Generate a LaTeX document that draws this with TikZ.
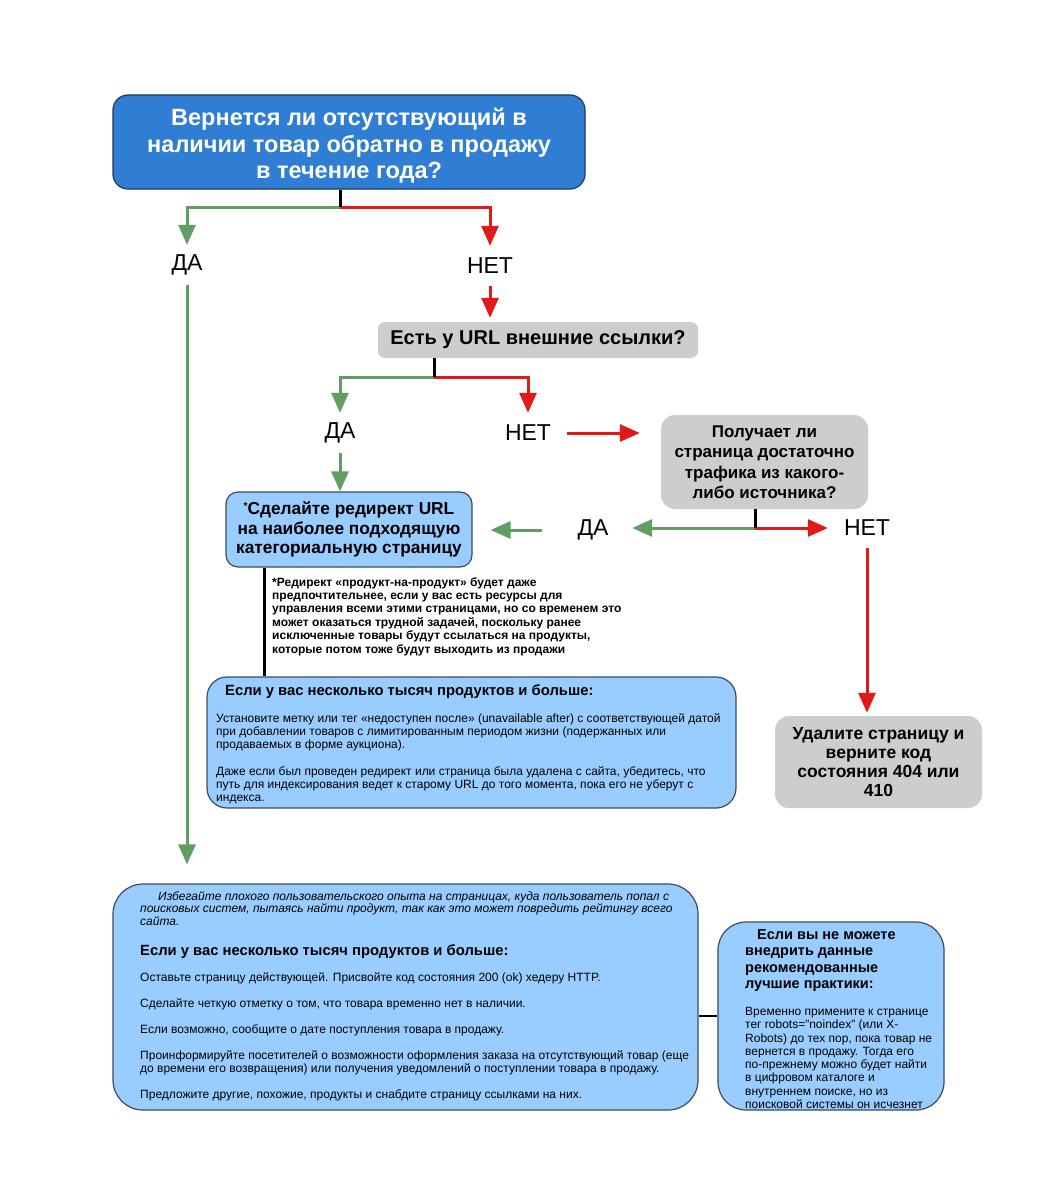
\documentclass[tikz,border=0pt]{standalone}
\usepackage{fontspec}
\setmainfont{Liberation Sans}
\usetikzlibrary{arrows.meta}
\newcommand\myfs[2]{\fontsize{#1}{#2}\selectfont}
\definecolor{topblue}{RGB}{47,126,212}
\definecolor{navy}{RGB}{30,55,90}
\definecolor{lblue}{RGB}{153,204,255}
\definecolor{lborder}{RGB}{60,75,95}
\definecolor{grayq}{RGB}{205,205,205}
\definecolor{gline}{RGB}{98,158,98}
\definecolor{rline}{RGB}{225,25,25}
\begin{document}
\begin{tikzpicture}[x=1pt,y=-1pt,
  topbox/.style={rounded corners=15pt, fill=topblue, draw=navy, line width=1.2pt, inner sep=0pt, minimum width=472pt, minimum height=94pt},
  gbox/.style={rounded corners=14pt, fill=grayq, align=center, inner sep=0pt},
  lbox/.style={rounded corners=14pt, fill=lblue, draw=lborder, line width=1.2pt, align=center, inner sep=0pt},
  lbl/.style={font=\myfs{23}{23}, minimum width=78pt, minimum height=40pt, inner sep=0pt},
  txt/.style={anchor=north west, align=left, inner sep=0pt},
  garr/.style={draw=gline, line width=3pt, -{Triangle[width=17pt,length=20pt]}},
  rarr/.style={draw=rline, line width=3pt, -{Triangle[width=17pt,length=20pt]}},
  stub/.style={draw=black, line width=3pt}
]
\useasboundingbox[fill=white] (0,0) rectangle (1057,1196);

% boxes
\node[topbox] (q1) at (349,142) {};
\node[text=white, align=center, inner sep=0pt, font=\myfs{23.5}{26.5}\bfseries] (q1t) at (349,146) {Вернется ли отсутствующий в\\наличии товар обратно в продажу\\в течение года?};
\node[lbl] (yes1) at (187,265) {ДА};
\node[lbl] (no1) at (490,266) {НЕТ};
\node[gbox, minimum width=320pt, minimum height=36pt, rounded corners=7pt, font=\myfs{20}{22}\bfseries] (q2) at (538,340) {Есть у URL внешние ссылки?};
\node[lbl] (yes2) at (340,433) {ДА};
\node[lbl] (no2) at (528,433) {НЕТ};
\node[gbox, minimum width=207pt, minimum height=94pt, font=\myfs{17}{20.5}\bfseries] (q3) at (764.5,462) {Получает ли\\страница достаточно\\трафика из какого-\\либо источника?};
\node[lbox, minimum width=246pt, minimum height=75pt, rounded corners=12pt, font=\myfs{17.3}{19.5}\bfseries] (redir) at (349,529.5) {\raisebox{5pt}{\myfs{10}{10}*}Сделайте редирект URL\\на наиболее подходящую\\категориальную страницу};
\node[lbl] (yes3) at (593,530) {ДА};
\node[lbl] (no3) at (867,528) {НЕТ};
\node[gbox, minimum width=207pt, minimum height=92pt, font=\myfs{17.5}{19}\bfseries] (del) at (878.5,762) {Удалите страницу и\\верните код\\состояния 404 или\\410};

% note
\node[txt, font=\myfs{12}{13.4}\bfseries] (note) at (272,577) {*Редирект «продукт-на-продукт» будет даже\\предпочтительнее, если у вас есть ресурсы для\\управления всеми этими страницами, но со временем это\\может оказаться трудной задачей, поскольку ранее\\исключенные товары будут ссылаться на продукты,\\которые потом тоже будут выходить из продажи};

% middle box
\node[lbox, minimum width=529pt, minimum height=131pt, rounded corners=20pt] (mid) at (471.5,742.5) {};
\node[txt, font=\myfs{14.8}{18}\bfseries] (midt) at (225,684) {Если у вас несколько тысяч продуктов и больше:};
\node[txt, font=\myfs{12}{13.3}] (midb) at (216,713) {Установите метку или тег «недоступен после» (unavailable after) с соответствующей датой\\при добавлении товаров с лимитированным периодом жизни (подержанных или\\продаваемых в форме аукциона).\\[13.3pt]Даже если был проведен редирект или страница была удалена с сайта, убедитесь, что\\путь для индексирования ведет к старому URL до того момента, пока его не уберут с\\индекса.};

% bottom left box
\node[lbox, minimum width=585pt, minimum height=226pt, rounded corners=30pt] (bl) at (405.5,997) {};
\node[txt, font=\myfs{12}{12.8}\itshape] (blit) at (140,891) {\hspace*{18pt}Избегайте плохого пользовательского опыта на страницах, куда пользователь попал с\\поисковых систем, пытаясь найти продукт, так как это может повредить рейтингу всего\\сайта.};
\node[txt, font=\myfs{14.8}{18}\bfseries] (blt) at (140,944) {Если у вас несколько тысяч продуктов и больше:};
\node[txt, font=\myfs{12}{13}] (blb) at (140,972) {Оставьте страницу действующей. Присвойте код состояния 200 (ok) хедеру HTTP.\\[13pt]Сделайте четкую отметку о том, что товара временно нет в наличии.\\[13pt]Если возможно, сообщите о дате поступления товара в продажу.\\[13pt]Проинформируйте посетителей о возможности оформления заказа на отсутствующий товар (еще\\до времени его возвращения) или получения уведомлений о поступлении товара в продажу.\\[13pt]Предложите другие, похожие, продукты и снабдите страницу ссылками на них.};

% bottom right box
\node[lbox, minimum width=226pt, minimum height=188pt, rounded corners=28pt] (br) at (831,1016) {};
\node[txt, font=\myfs{14.5}{16.5}\bfseries] (brt) at (745,929) {\hspace*{12pt}Если вы не можете\\внедрить данные\\рекомендованные\\лучшие практики:};
\node[txt, font=\myfs{12}{13.3}] (brb) at (745,1007) {Временно примените к странице\\тег robots="noindex" (или X-\\Robots) до тех пор, пока товар не\\вернется в продажу. Тогда его\\по-прежнему можно будет найти\\в цифровом каталоге и\\внутреннем поиске, но из\\поисковой системы он исчезнет};

% connectors
\coordinate (j1) at (340,207);
\draw[garr] (j1) -| (yes1.north);
\draw[rarr] (j1) -| (no1.north);
\draw[stub] (q1.south -| j1) -- (j1);
\draw[rarr, shorten >=4pt] (no1.south) -- (q2.north -| no1);
\coordinate (j2) at (434,377);
\draw[garr] (j2) -| (yes2.north);
\draw[rarr] (j2) -| (no2.north);
\draw[stub] (q2.south -| j2) -- (j2);
\draw[rarr, shorten >=21pt] (no2.east) -- (q3.west |- no2.east);
\draw[garr] (yes2.south) -- (redir.north -| yes2);
\coordinate (j3) at (755,528);
\draw[garr] (j3) -- (yes3.east |- j3);
\draw[rarr] (j3) -- (no3.west |- j3);
\draw[stub] (q3.south -| j3) -- (j3);
\draw[garr, shorten <=12pt, shorten >=18pt] (yes3.west) -- (redir.east |- yes3.west);
\draw[rarr, shorten >=3pt] (no3.south) -- (del.north -| no3);
\coordinate (cx) at (264,0);
\draw[stub] (redir.south -| cx) -- (mid.north -| cx);
\draw[garr, shorten >=19pt] (yes1.south) -- (bl.north -| yes1);
\draw[stub, line width=2.5pt] (br.west) -- (br.west -| bl.east);
\end{tikzpicture}
\end{document}
